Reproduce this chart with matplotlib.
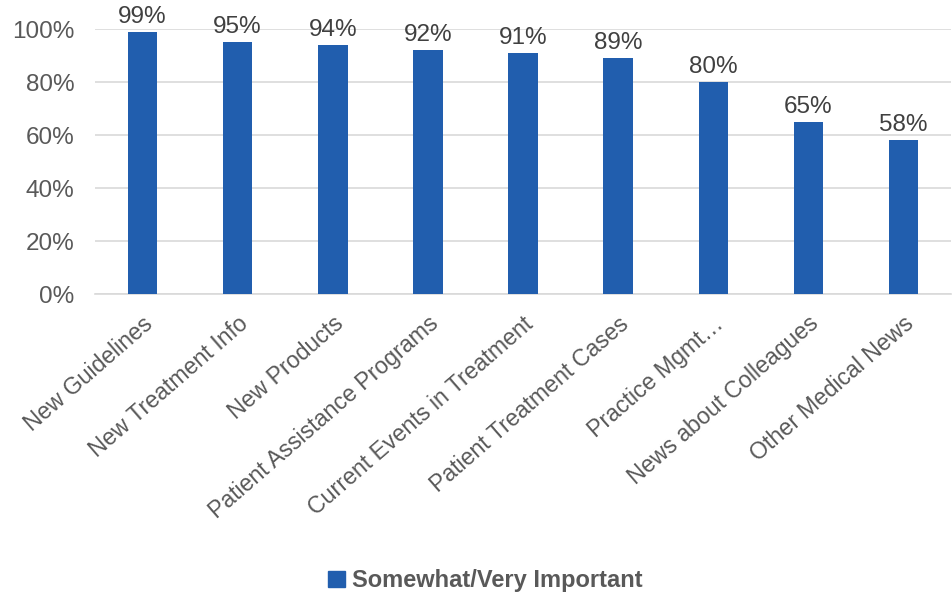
import matplotlib.pyplot as plt
from matplotlib.patches import Patch

plt.rcParams['font.family'] = ['Liberation Sans', 'DejaVu Sans']

categories = ["New Guidelines", "New Treatment Info", "New Products",
              "Patient Assistance Programs", "Current Events in Treatment",
              "Patient Treatment Cases", "Practice Mgmt…",
              "News about Colleagues", "Other Medical News"]
values = [0.99, 0.95, 0.94, 0.92, 0.91, 0.89, 0.80, 0.65, 0.58]
series_name = "Somewhat/Very Important"
yticks = [0, 0.2, 0.4, 0.6, 0.8, 1.0]

bar_color = "#215EAE"
text_color = "#595959"

fig = plt.figure(figsize=(9.52, 5.97), dpi=100)
ax = fig.add_axes([0.0998, 0.5075, 0.8992, 0.4439])

x = list(range(len(categories)))
bars = ax.bar(x, values, width=0.31, color=bar_color, zorder=3)

for xi, v in zip(x, values):
    ax.text(xi, v + 0.015, f"{v:.0%}", ha='center', va='bottom',
            fontsize=17.5, color="#404040")

ax.set_xlim(-0.5, len(categories) - 0.5)
ax.set_ylim(0, 1)
ax.set_yticks(yticks)
ax.set_yticklabels([f"{t:.0%}" for t in yticks])
ax.yaxis.grid(True, color="#D9D9D9", linewidth=1.2, zorder=0)
ax.tick_params(axis='y', length=0, labelsize=17.5, labelcolor=text_color, pad=15)
ax.tick_params(axis='x', length=0, labelsize=16.7, labelcolor=text_color, pad=13)

ax.set_xticks(x)
ax.set_xticklabels(categories, rotation=41, ha='right', rotation_mode='anchor')

for s in ['top', 'right', 'left']:
    ax.spines[s].set_visible(False)
ax.spines['bottom'].set_color("#D9D9D9")
ax.spines['bottom'].set_linewidth(1.2)

fig.legend(handles=[Patch(color=bar_color, label=series_name)],
           loc='center', bbox_to_anchor=(0.51, 0.027), frameon=False,
           prop={'size': 17, 'weight': 'bold'}, labelcolor=text_color,
           handlelength=0.7, handleheight=0.7, handletextpad=0.3)

fig.savefig("out.png", dpi=100)
